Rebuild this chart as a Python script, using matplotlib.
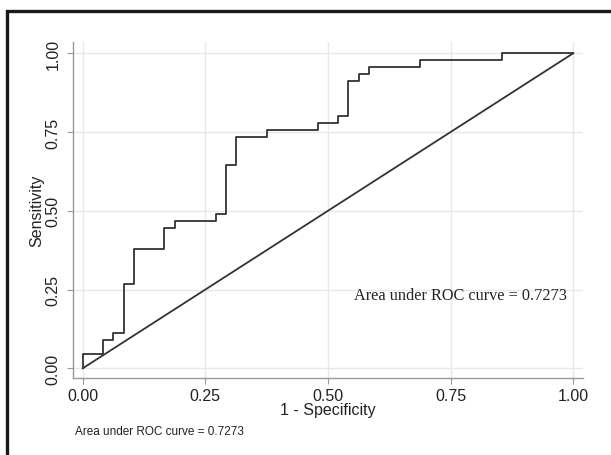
import matplotlib
matplotlib.use("Agg")
import matplotlib.pyplot as plt
from matplotlib.patches import Rectangle

# ROC curve corner points (1 - specificity, sensitivity)
fpr = [0.0, 0.0, 0.0417, 0.0625, 0.0833, 0.1042, 0.1667, 0.1875, 0.2708, 0.2917,
       0.3125, 0.375, 0.4792, 0.5208, 0.5417, 0.5625, 0.5833, 0.6875, 0.8542, 1.0]
tpr = [0.0, 0.0444, 0.0889, 0.1111, 0.2667, 0.3778, 0.4444, 0.4667, 0.4889, 0.6444,
       0.7333, 0.7556, 0.7778, 0.8, 0.9111, 0.9333, 0.9556, 0.9778, 1.0, 1.0]
ref_line = [0.0, 1.0]
tick_vals = [0.0, 0.25, 0.5, 0.75, 1.0]
tick_labels = ["0.00", "0.25", "0.50", "0.75", "1.00"]
auc_text = "Area under ROC curve = 0.7273"

plt.rcParams['font.family'] = ['Liberation Sans', 'DejaVu Sans']

fig = plt.figure(figsize=(6.11, 4.56), dpi=100)
fig.patch.set_facecolor('white')

# outer frame (cropped at right and bottom)
fig.patches.append(Rectangle((7.5 / 611, -0.1), 1.2, (456 - 12) / 456 + 0.1,
                             transform=fig.transFigure, fill=False,
                             edgecolor='#1a1a1a', linewidth=2.4, zorder=0))

ax = fig.add_axes([73.3 / 611, (456 - 379.3) / 456, (583 - 73.3) / 611, (379.3 - 43) / 456])
ax.set_xlim(-0.0192, 1.0198)
ax.set_ylim(-0.0317, 1.0356)

ax.step(fpr, tpr, where='post', color='#333333', linewidth=1.3, zorder=3)
ax.plot(ref_line, ref_line, color='#333333', linewidth=1.3, zorder=3)

ax.set_xticks(tick_vals)
ax.set_xticklabels(tick_labels)
ax.set_yticks(tick_vals)
ax.set_yticklabels(tick_labels, rotation=90, va='center')
ax.grid(True, color='#e8e8e8', linewidth=1.0)
ax.set_axisbelow(True)

for s in ['top', 'right']:
    ax.spines[s].set_visible(False)
for s in ['left', 'bottom']:
    ax.spines[s].set_color('#999999')
    ax.spines[s].set_linewidth(1.0)
ax.tick_params(axis='both', colors='#999999', length=4, width=0.8, labelsize=11.5,
               labelcolor='#222222', pad=3)
ax.tick_params(axis='y', pad=5)

ax.set_xlabel("1 - Specificity", fontsize=11.5, color='#222222', labelpad=-1)
ax.set_ylabel("Sensitivity", fontsize=11.5, color='#222222', labelpad=1)

ax.text(0.7695, 0.232, auc_text, fontsize=11.7, family=['Liberation Serif', 'DejaVu Serif'],
        color='#222222', ha='center', va='center', transform=ax.transData)

fig.text(75 / 611, 1 - 432 / 456, auc_text, fontsize=8.5, color='#222222',
         ha='left', va='center')

fig.savefig("out.png", dpi=100, facecolor='white')
